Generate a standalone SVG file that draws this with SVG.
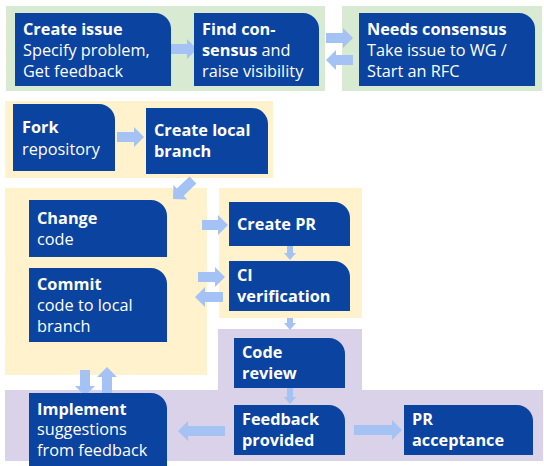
<svg xmlns="http://www.w3.org/2000/svg" width="544" height="466" viewBox="0 0 544 466">
<style>
.bg-g{fill:#d9ead3}.bg-y{fill:#fff2cc}.bg-p{fill:#d9d2e9}
.node{fill:#0b43a0}
.t{font-family:"Open Sans","Noto Sans",sans-serif;font-size:16.3px;fill:#ffffff}
.b{font-weight:bold}
.arr{fill:#a4c2f4}
</style>
<rect width="544" height="466" fill="#ffffff"/>
<g id="backgrounds">
<rect class="bg-g" x="6" y="6" width="319" height="85"/>
<rect class="bg-g" x="342" y="6" width="200" height="85"/>
<rect class="bg-y" x="5" y="101" width="268" height="77"/>
<rect class="bg-y" x="5" y="188" width="202" height="187"/>
<rect class="bg-y" x="219" y="188" width="143" height="130"/>
<rect class="bg-p" x="218" y="329" width="144" height="62"/>
<rect class="bg-p" x="5" y="390" width="538" height="71"/>
</g>
<g id="connectors">
<polygon class="arr" points="171,44 187,44 187,39 197,49 187,59 187,54 171,54"/>
<polygon class="arr" points="326,33 343,33 343,28 353,38 343,48 343,43 326,43"/>
<polygon class="arr" points="353,55 336,55 336,50 326,60 336,70 336,65 353,65"/>
<polygon class="arr" points="117,132 134,132 134,127 144,137 134,147 134,142 117,142"/>
<polygon class="arr" points="196.4,183.6 183.7,195.7 187.1,199.4 173,199 173.4,184.9 176.8,188.5 189.6,176.4"/>
<polygon class="arr" points="202,220 218,220 218,215 228,225 218,235 218,230 202,230"/>
<polygon class="arr" points="198,272 215,272 215,267 225,277 215,287 215,282 198,282"/>
<polygon class="arr" points="223,292 205,292 205,287 195,297 205,307 205,302 223,302"/>
<polygon class="arr" points="287,246 293,246 293,253 296,253 290,260 284,253 287,253"/>
<polygon class="arr" points="287,318 293,318 293,323 296,323 290,330 284,323 287,323"/>
<polygon class="arr" points="287,388 293,388 293,397 296,397 290,404 284,397 287,397"/>
<polygon class="arr" points="80,370 90,370 90,386 95,386 85,396 75,386 80,386"/>
<polygon class="arr" points="102,393 112,393 112,377 117,377 107,367 97,377 102,377"/>
<polygon class="arr" points="225,426 188,426 188,421 178,431 188,441 188,436 225,436"/>
<polygon class="arr" points="354,425 392,425 392,420 402,430 392,440 392,435 354,435"/>
</g>
<g id="create-issue">
<path class="node" d="M15,13 H155 A16,16 0 0 1 171,29 V86 H15 Z"/>
<text class="t" x="23" y="35"><tspan class="b">Create issue</tspan><tspan x="23" y="56">Specify problem,</tspan><tspan x="23" y="77">Get feedback</tspan></text>
</g>
<g id="find-consensus">
<path class="node" d="M194,13 H303 A16,16 0 0 1 319,29 V86 H194 Z"/>
<text class="t" x="202" y="35"><tspan class="b">Find con-</tspan><tspan x="202" y="56" class="b">sensus</tspan><tspan> and</tspan><tspan x="202" y="77">raise visibility</tspan></text>
</g>
<g id="needs-consensus">
<path class="node" d="M359,13 H519 A16,16 0 0 1 535,29 V86 H359 Z"/>
<text class="t" x="367" y="35"><tspan class="b">Needs consensus</tspan><tspan x="367" y="56">Take issue to WG /</tspan><tspan x="367" y="77">Start an RFC</tspan></text>
</g>
<g id="fork">
<path class="node" d="M13,104 H99 A16,16 0 0 1 115,120 V171 H13 Z"/>
<text class="t" x="22" y="133"><tspan class="b">Fork</tspan><tspan x="22" y="155">repository</tspan></text>
</g>
<g id="create-local-branch">
<path class="node" d="M146,108 H252 A16,16 0 0 1 268,124 V174 H146 Z"/>
<text class="t b" x="154" y="136"><tspan>Create local</tspan><tspan x="154" y="157">branch</tspan></text>
</g>
<g id="change-code">
<path class="node" d="M29,200 H151 A16,16 0 0 1 167,216 V257 H29 Z"/>
<text class="t" x="37" y="224"><tspan class="b">Change</tspan><tspan x="37" y="245">code</tspan></text>
</g>
<g id="commit">
<path class="node" d="M29,268 H151 A16,16 0 0 1 167,284 V342 H29 Z"/>
<text class="t" x="37" y="290"><tspan class="b">Commit</tspan><tspan x="37" y="311">code to local</tspan><tspan x="37" y="332">branch</tspan></text>
</g>
<g id="create-pr">
<path class="node" d="M229,202 H334 A16,16 0 0 1 350,218 V246 H229 Z"/>
<text class="t b" x="237" y="230">Create PR</text>
</g>
<g id="ci-verification">
<path class="node" d="M229,261 H334 A16,16 0 0 1 350,277 V311 H229 Z"/>
<text class="t b" x="237" y="281"><tspan>CI</tspan><tspan x="237" y="302">verification</tspan></text>
</g>
<g id="code-review">
<path class="node" d="M234,338 H329 A16,16 0 0 1 345,354 V388 H234 Z"/>
<text class="t b" x="242" y="358"><tspan>Code</tspan><tspan x="242" y="379">review</tspan></text>
</g>
<g id="feedback-provided">
<path class="node" d="M234,405 H329 A16,16 0 0 1 345,421 V455 H234 Z"/>
<text class="t b" x="242" y="425"><tspan>Feedback</tspan><tspan x="242" y="446">provided</tspan></text>
</g>
<g id="pr-acceptance">
<path class="node" d="M404,405 H517 A16,16 0 0 1 533,421 V455 H404 Z"/>
<text class="t b" x="412" y="425"><tspan>PR</tspan><tspan x="412" y="446">acceptance</tspan></text>
</g>
<g id="implement">
<path class="node" d="M29,393 H151 A16,16 0 0 1 167,409 V468 H29 Z"/>
<text class="t" x="37" y="415"><tspan class="b">Implement</tspan><tspan x="37" y="435">suggestions</tspan><tspan x="37" y="456">from feedback</tspan></text>
</g>
</svg>
